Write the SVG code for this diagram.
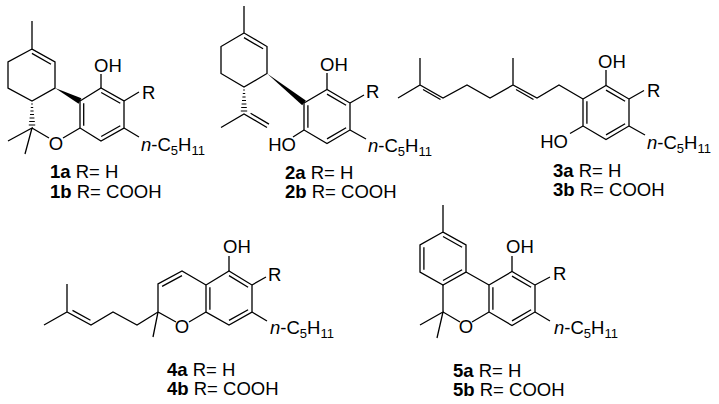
<svg xmlns="http://www.w3.org/2000/svg" width="719" height="404" viewBox="0 0 719 404">
<style>
.b{fill:none;stroke:#000;stroke-width:1.3}
.w{fill:#000;stroke:none}
.h{fill:none;stroke:#000;stroke-width:1.1}
text{font-family:"Liberation Sans",Arial,sans-serif;font-size:18.5px;fill:#000}
.c{text-anchor:middle}
.e{text-anchor:end}
.bd{font-weight:bold}
.i{font-style:italic}
.s{font-size:13px}
</style>
<rect width="719" height="404" fill="#fff"/>
<g id="mol1">
<g class="bonds">
<path class="b" d="M32,21V49L55,62V88L32,101L8,88V62L32,49M31.9,53.4L51,64.2"/>
<path class="b" d="M8,141L32,128L25,154M32,128L49,138M63,138L80,128"/>
<path class="b" d="M80,101L101,88L124,101V128L101,141L80,128ZM83.7,103.3V125.7M101.2,92.5L120.3,103.3M120.3,125.7L101.2,136.5"/>
<path class="b" d="M101,88V74M124,101L139,92M124,128L139,137"/>
<polygon class="w" points="55,88 78.6,103.7 81.4,98.3"/>
<path class="h" d="M31.2,104H32.8M30.8,107.5H33.2M30.4,111H33.6M30,114.5H34M29.6,118H34.4M29.2,121.5H34.8M28.8,125H35.2"/>
</g>
<text class="c" x="56" y="150">O</text>
<text x="94" y="72">OH</text>
<text x="142" y="99">R</text>
<text x="141" y="151"><tspan class="i">n</tspan>-C<tspan class="s" dy="4">5</tspan><tspan dy="-4">H</tspan><tspan class="s" dy="4">11</tspan></text>
<text x="50" y="178"><tspan class="bd">1a</tspan> R= H</text>
<text x="50" y="198"><tspan class="bd">1b</tspan> R= COOH</text>
</g>
<g id="mol2">
<g class="bonds">
<path class="b" d="M244,6V33L267,46.5V73.5L244,87L221,73.5V46.5L244,33M244,37.6L263.1,48.8"/>
<path class="b" d="M221,127.5L244,114L267,127.5M250.6,113.3L269,124.1"/>
<path class="b" d="M304,103L327,89.5L350,103V130L327,143.5L304,130ZM307.9,105.3V127.7M327,94.1L346.1,105.3M346.1,127.7L327,138.9"/>
<path class="b" d="M327,89.5V73M350,103L364,95M350,130L366,139M304,130L293,137"/>
<polygon class="w" points="267,73.5 302.2,105.2 305.8,100.4"/>
<path class="h" d="M243.2,90H244.8M242.8,93.5H245.2M242.4,97H245.6M242,100.5H246M241.6,104H246.4M241.2,107.5H246.8M240.8,111H247.2"/>
</g>
<text x="320" y="70.5">OH</text>
<text x="366" y="98">R</text>
<text class="e" x="296" y="151">HO</text>
<text x="368" y="152"><tspan class="i">n</tspan>-C<tspan class="s" dy="4">5</tspan><tspan dy="-4">H</tspan><tspan class="s" dy="4">11</tspan></text>
<text x="285" y="179"><tspan class="bd">2a</tspan> R= H</text>
<text x="285" y="198"><tspan class="bd">2b</tspan> R= COOH</text>
</g>
<g id="mol3">
<g class="bonds">
<path class="b" d="M398,98L420,85L443,98L467,85L490,98L513,85L537,98L559,85L583,99M420,85V58M513,85V58M423,89.5L440.5,99.5M516,89.5L533.5,99.5"/>
<path class="b" d="M583,99L606,85.5L629,99V126L606,139.5L583,126ZM586.9,101.3V123.7M606,90.1L625.1,101.3M625.1,123.7L606,134.9"/>
<path class="b" d="M606,85.5V70M629,99L644,90.5M629,126L645,135M583,126L570,133.5"/>
</g>
<text x="598" y="68">OH</text>
<text x="647" y="97">R</text>
<text class="e" x="568" y="148">HO</text>
<text x="647" y="149"><tspan class="i">n</tspan>-C<tspan class="s" dy="4">5</tspan><tspan dy="-4">H</tspan><tspan class="s" dy="4">11</tspan></text>
<text x="553" y="177"><tspan class="bd">3a</tspan> R= H</text>
<text x="553" y="196"><tspan class="bd">3b</tspan> R= COOH</text>
</g>
<g id="mol4">
<g class="bonds">
<path class="b" d="M44,325L67,312L91,325L113,312L137,325L158,312M67,312V284M72.5,310.4L90.5,320.2"/>
<path class="b" d="M153,337L158,312L176,322M189,322L206,312M158,312V284L182,271L206,285M162.1,286.4L182,275.6"/>
<path class="b" d="M206,285L229,271L252,285V312L229,325L206,312ZM209.9,287.3V309.7M229,275.6L248.1,287.3M248.1,309.7L229,320.4"/>
<path class="b" d="M229,271V256M252,285L266,277M252,312L267,321"/>
</g>
<text class="c" x="182" y="332.5">O</text>
<text x="223" y="253">OH</text>
<text x="268" y="281">R</text>
<text x="270" y="334"><tspan class="i">n</tspan>-C<tspan class="s" dy="4">5</tspan><tspan dy="-4">H</tspan><tspan class="s" dy="4">11</tspan></text>
<text x="167" y="376"><tspan class="bd">4a</tspan> R= H</text>
<text x="167" y="395"><tspan class="bd">4b</tspan> R= COOH</text>
</g>
<g id="mol5">
<g class="bonds">
<path class="b" d="M443,205V232L466,245V272L443,285L420,272V245L443,232M443,236.5L462.1,247.3M423.9,247.3V269.7M462.1,269.7L443,280.5"/>
<path class="b" d="M466,272L489,285M443,285V312L460,322M472,322L489,312M420,325L443,312L437,338"/>
<path class="b" d="M489,285L512,271.5L535,285V312L512,325.5L489,312ZM492.9,287.3V309.7M512,276.1L531.1,287.3M531.1,309.7L512,320.9"/>
<path class="b" d="M512,271.5V256M535,285L550,277M535,312L550,321"/>
</g>
<text class="c" x="466" y="333">O</text>
<text x="506" y="253">OH</text>
<text x="553" y="280">R</text>
<text x="554" y="334"><tspan class="i">n</tspan>-C<tspan class="s" dy="4">5</tspan><tspan dy="-4">H</tspan><tspan class="s" dy="4">11</tspan></text>
<text x="453" y="377"><tspan class="bd">5a</tspan> R= H</text>
<text x="453" y="396"><tspan class="bd">5b</tspan> R= COOH</text>
</g>
</svg>
